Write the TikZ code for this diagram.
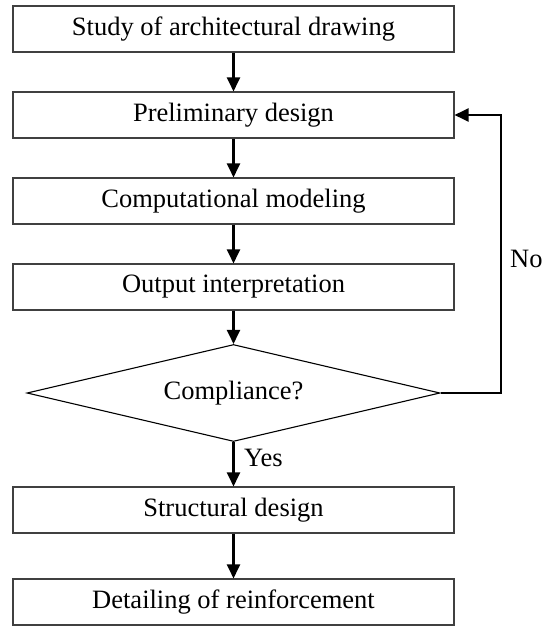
\documentclass[tikz,border=0pt]{standalone}
\usepackage{fontspec}
\setmainfont{Liberation Serif}
\usetikzlibrary{shapes.geometric,arrows.meta}
\begin{document}
\begin{tikzpicture}[x=1pt,y=-1pt,
  every node/.style={font=\fontsize{26.5}{30}\selectfont},
  procbox/.style={draw=black!75,line width=1.1pt,minimum width=441pt,minimum height=46pt,inner sep=0pt,anchor=center},
  decision/.style={draw=black,line width=1.1pt,shape=diamond,aspect=4.2,minimum width=413pt,minimum height=97pt,inner sep=0pt},
  flow/.style={line width=2.2pt,-{Triangle[width=13pt,length=14pt]}},
  lbl/.style={anchor=west,inner sep=0pt}]
\useasboundingbox (0,0) rectangle (541,626);
\node[procbox] (b1) at (233.5,29) {Study of architectural drawing};
\node[procbox] (b2) at (233.5,115) {Preliminary design};
\node[procbox] (b3) at (233.5,201) {Computational modeling};
\node[procbox] (b4) at (233.5,287) {Output interpretation};
\node[decision] (d) at (233.5,393) {Compliance?};
\node[procbox] (b5) at (233.5,510) {Structural design};
\node[procbox] (b6) at (233.5,602) {Detailing of reinforcement};
\coordinate (fb) at (501,393);
\draw[flow] (b1) -- (b2);
\draw[flow] (b2) -- (b3);
\draw[flow] (b3) -- (b4);
\draw[flow] (b4) -- (d);
\draw[flow] (d) -- (b5);
\draw[flow] (b5) -- (b6);
\draw[flow] (d.east) -- (fb) |- (b2.east);
\node[lbl] (no) at (510,259) {No};
\node[lbl] (yes) at (244,458) {Yes};
\end{tikzpicture}
\end{document}
